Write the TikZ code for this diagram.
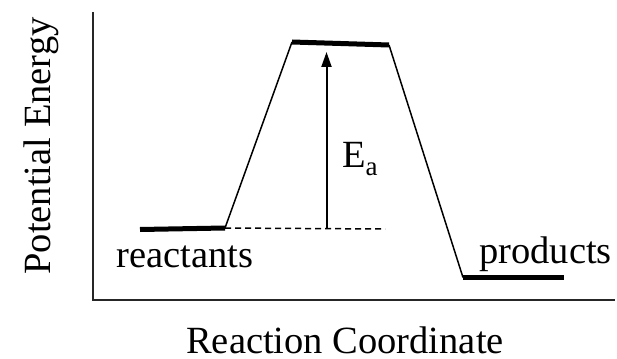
\documentclass[tikz,border=0pt]{standalone}
\usepackage{fontspec}
\setmainfont{Liberation Serif}
\usetikzlibrary{arrows.meta}
\begin{document}
\begin{tikzpicture}[x=1pt,y=-1pt,
  lbl/.style={inner sep=0pt,font=\fontsize{38.5}{40}\selectfont},
  axis/.style={line width=1.8pt,draw=black!85},
  slope/.style={line width=1.5pt},
  level/.style={line width=5pt},
  guide/.style={line width=1.5pt,dash pattern=on 6pt off 4pt}]
\useasboundingbox (0,0) rectangle (617,358);
% axes
\coordinate (ytop) at (93,12);
\coordinate (orig) at (93,300);
\coordinate (xend) at (615,300);
\draw[axis] (ytop) -- (orig) -- (xend);
% energy levels
\coordinate (r1) at (140,229.5);
\coordinate (r2) at (225,228);
\coordinate (t1) at (292,42);
\coordinate (t2) at (389,45);
\coordinate (p1) at (463,277.5);
\coordinate (p2) at (564,277.5);
\draw[level] (r1) -- (r2);
\draw[level] (t1) -- (t2);
\draw[level] (p1) -- (p2);
\draw[slope] (r2) -- (t1);
\draw[slope] (t2) -- (p1);
% dashed guide and arrow
\coordinate (dend) at (385,229);
\coordinate (abot) at (326.5,229);
\coordinate (atop) at (326.5,52);
\draw[guide] (r2) -- (dend);
\draw[line width=2pt,-{Triangle[length=15pt,width=10pt]}] (abot) -- (atop);
% labels
\node[lbl,anchor=base west] (ea) at (342,167) {E\raisebox{-8pt}{\fontsize{27}{27}\selectfont a}};
\node[lbl,anchor=base west] (react) at (116,267) {reactants};
\node[lbl,anchor=base west] (prod) at (479,263) {products};
\node[lbl,anchor=base] (xlab) at (345,353) {Reaction Coordinate};
\node[lbl,anchor=base,rotate=90] (ylab) at (50,146) {Potential Energy};
\end{tikzpicture}
\end{document}
